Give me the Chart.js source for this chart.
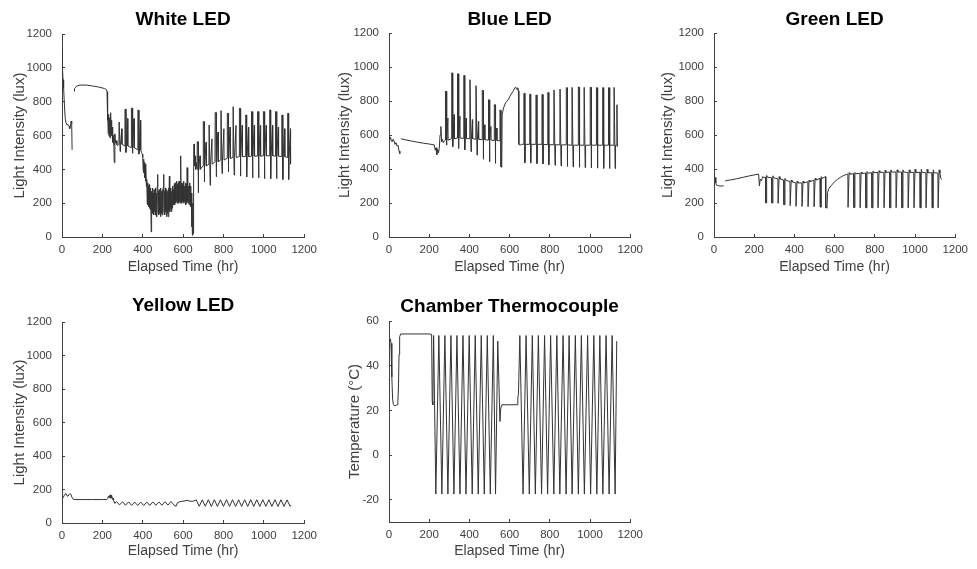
<!DOCTYPE html>
<html>
<head>
<meta charset="utf-8">
<script src="https://cdn.jsdelivr.net/npm/chart.js@4.4.1/dist/chart.umd.min.js"></script>
<style>
  body { margin: 0; background: #fff; width: 977px; height: 569px; overflow: hidden; position: relative; }
  canvas { position: absolute; }
</style>
</head>
<body>
<canvas id="white"></canvas>
<canvas id="blue"></canvas>
<canvas id="green"></canvas>
<canvas id="yellow"></canvas>
<canvas id="thermo"></canvas>
<script>
// tick labels
const hourTicks = [0, 200, 400, 600, 800, 1000, 1200];
const luxTicks = [0, 200, 400, 600, 800, 1000, 1200];
const tempTicks = [-20, 0, 20, 40, 60];

// White LED (lux)
const whiteStartHours = [0, 2, 5, 8, 12, 16, 20, 25, 30, 35, 38, 42, 45, 48, 50];
const whiteStartLux = [1090, 1010, 930, 880, 780, 700, 675, 662, 665, 655, 640, 652, 685, 670, 515];
const whitePlateauHours = [60, 62, 66, 72, 90, 120, 150, 180, 210, 220, 223, 225, 227, 229, 231, 233, 235, 237, 239, 241, 243, 245, 247, 249, 251, 254, 257, 259, 262, 265, 268, 272, 276];
const whitePlateauLux = [862, 878, 882, 892, 898, 898, 893, 887, 878, 872, 860, 690, 745, 610, 725, 595, 705, 640, 585, 735, 615, 690, 600, 650, 560, 600, 545, 440, 610, 555, 570, 545, 540];
const whiteCycle1Hours = [283, 312, 344, 376];
const whiteCycle1Peak = [680, 755, 762, 750];
const whiteCycle1Low = [505, 500, 495, 490];
const whiteCycle1Base = [548, 538, 528, 515];
const whiteCycle1Mid = [640, 700, 700, 690];
const whiteDenseHours = [390, 394, 398,
  400, 402, 404, 406, 408, 410, 412, 414, 416, 418, 420, 422, 424, 426, 428, 430, 432, 434, 436, 438,
  440, 442, 444, 446, 448, 450, 452, 454, 456, 458, 460, 462, 464, 466, 468, 470, 472, 474, 476, 478,
  480, 482, 484, 486, 488, 490, 492, 494, 496, 498, 500, 502, 504, 506, 508, 510, 512, 514, 516, 518,
  520, 522, 524, 526, 528, 530, 532, 534, 536, 538, 540, 542, 544, 546, 548, 550, 552, 554, 556, 558,
  560, 562, 564, 566, 568, 570, 572, 574, 576, 578, 580, 582, 584, 586, 588, 590, 592, 594, 596, 598,
  600, 602, 604, 606, 608, 610, 612, 614, 616, 618, 620, 622, 624, 626, 628, 630, 632, 634, 636, 638,
  640, 642, 644, 646, 648, 650, 652, 654, 656, 659, 662, 665];
const whiteDenseLux = [515, 500, 490,
  470, 400, 460, 380, 440, 350, 430, 330, 400, 300, 340, 200, 320, 190, 300, 180, 310, 170, 290, 160,
  280, 30, 270, 150, 290, 140, 260, 130, 280, 150, 270, 130, 290, 140, 260, 120, 300, 370, 150, 270,
  130, 280, 140, 260, 120, 290, 140, 270, 130, 280, 150, 300, 370, 140, 270, 130, 290, 150, 260, 120,
  280, 140, 270, 120, 290, 160, 360, 150, 280, 170, 290, 150, 270, 170, 300, 190, 280, 200, 310, 190,
  320, 200, 300, 210, 330, 200, 310, 220, 320, 200, 330, 210, 310, 200, 480, 220, 320, 200, 310, 210,
  320, 200, 330, 210, 300, 200, 320, 190, 310, 200, 410, 210, 320, 200, 300, 190, 320, 210, 300, 180,
  260, 60, 240, 10, 200, 20, 380, 550, 420, 480, 400, 440];
const whiteCycle2Hours = [670, 700, 729, 759, 788, 819, 848, 879, 910, 939, 969, 998, 1029, 1058, 1089, 1118];
const whiteCycle2Peak = [563, 682, 662, 735, 747, 731, 770, 760, 721, 741, 741, 741, 751, 741, 721, 731];
const whiteCycle2Low = [262, 326, 306, 356, 375, 385, 366, 360, 355, 350, 350, 345, 345, 345, 340, 340];
const whiteCycle2Base = [400, 420, 430, 445, 455, 465, 470, 475, 475, 478, 478, 480, 480, 478, 475, 470];
const whiteCycle2Mid = [480, 560, 580, 620, 640, 650, 660, 660, 650, 660, 660, 660, 660, 650, 640, 640];
const whiteEndHours = [1130, 1134];
const whiteEndLux = [430, 440];

// Blue LED (lux)
const blueStartHours = [0, 4, 8, 12, 16, 20, 25, 30, 35, 40, 45, 50, 54];
const blueStartLux = [590, 575, 585, 565, 560, 575, 565, 545, 555, 535, 540, 505, 490];
const blueFlatHours = [60, 80, 110, 140, 170, 200, 225, 230, 234, 238, 242, 246, 250, 254, 258, 262, 266, 270, 275];
const blueFlatLux = [578, 572, 565, 558, 552, 547, 542, 510, 525, 485, 515, 495, 520, 600, 650, 560, 575, 555, 565];
const blueCycle1Hours = [281, 312, 341, 372, 403, 433, 464, 495, 524];
const blueCycle1Peak = [857, 965, 960, 950, 925, 890, 862, 807, 778];
const blueCycle1Low = [540, 531, 520, 512, 502, 482, 457, 443, 433];
const blueCycle1Base = [570, 578, 582, 580, 578, 575, 572, 570, 568];
const blueCycle1Mid = [700, 720, 710, 700, 690, 680, 660, 650, 640];
const blueRiseHours = [551, 552, 556, 557, 561, 563, 570, 580, 593, 605, 617, 625, 630, 634, 638, 641, 644, 646, 652, 660];
const blueRiseLux = [565, 748, 745, 413, 410, 720, 760, 790, 807, 835, 856, 875, 882, 870, 866, 878, 860, 545, 540, 545];
const blueCycle2Hours = [671, 700, 731, 761, 790, 821, 851, 882, 911, 942, 971, 1001, 1032, 1063, 1092, 1120];
const blueCycle2Peak = [845, 840, 835, 838, 850, 865, 870, 878, 880, 882, 880, 880, 878, 878, 878, 880];
const blueCycle2Low = [437, 435, 432, 430, 425, 422, 418, 415, 412, 410, 408, 406, 405, 404, 403, 403];
const blueCycle2Base = [545, 545, 545, 545, 543, 543, 542, 542, 540, 540, 540, 540, 540, 540, 540, 540];
const blueEndHours = [1131, 1134, 1136];
const blueEndLux = [540, 778, 530];

// Green LED (lux)
const greenStartHours = [0, 6, 9, 12, 20, 30, 40, 48];
const greenStartLux = [352, 350, 318, 306, 302, 300, 300, 302];
const greenFlatHours = [55, 60, 80, 110, 140, 170, 200, 222, 226, 230, 236, 242, 248];
const greenFlatLux = [328, 332, 335, 342, 350, 358, 365, 370, 300, 340, 330, 355, 350];
const greenCycle1Hours = [257, 288, 319, 348, 379, 408, 438, 468, 498, 529];
const greenCycle1Low = [200, 200, 198, 190, 185, 180, 180, 178, 178, 176];
const greenCycle1Tooth = [362, 360, 355, 345, 335, 328, 328, 335, 345, 355];
const greenCycle1Top = [352, 348, 342, 335, 325, 318, 318, 325, 335, 345];
const greenRiseHours = [555, 556, 561, 562, 565, 572, 585, 600, 615, 630, 645, 660];
const greenRiseLux = [355, 172, 172, 170, 262, 285, 305, 325, 340, 352, 362, 368];
const greenCycle2Hours = [667, 696, 727, 756, 786, 816, 846, 875, 906, 935, 966, 995, 1026, 1055, 1086, 1115];
const greenCycle2Low = [175, 173, 172, 172, 172, 172, 172, 172, 172, 172, 172, 172, 172, 172, 172, 172];
const greenCycle2Tooth = [378, 380, 382, 385, 388, 390, 392, 395, 395, 395, 395, 398, 398, 398, 395, 395];
const greenCycle2Top = [370, 372, 374, 376, 378, 380, 380, 382, 382, 382, 380, 380, 380, 378, 378, 376];
const greenEndHours = [1128, 1134];
const greenEndLux = [345, 338];

// Yellow LED (lux)
const yellowStartHours = [0, 5, 10, 15, 20, 25, 30, 35, 40, 45, 50, 55, 60, 100, 150, 200, 222, 226, 230, 234, 238, 242, 246, 250, 254, 258, 262];
const yellowStartLux = [148, 150, 162, 172, 175, 162, 160, 170, 176, 168, 152, 142, 140, 140, 140, 140, 140, 145, 160, 150, 168, 148, 165, 140, 150, 125, 118];
const yellowCycle1Hours = [270, 300, 330, 360, 390, 420, 450, 480, 510, 540];
const yellowCycle1Peak = [128, 127, 126, 125, 125, 125, 126, 126, 127, 128];
const yellowCycle1Low = [108, 106, 105, 105, 105, 105, 106, 106, 107, 108];
const yellowMidHours = [560, 565, 572, 585, 600, 620, 635, 650];
const yellowMidLux = [103, 100, 120, 128, 130, 135, 130, 130];
const yellowCycle2Hours = [665, 695, 725, 755, 785, 815, 845, 875, 905, 935, 965, 995, 1025, 1055, 1085, 1115];
const yellowCycle2Peak = [138, 138, 139, 139, 139, 139, 139, 139, 139, 139, 139, 139, 139, 139, 139, 138];
const yellowCycle2Low = [100, 100, 99, 99, 99, 99, 99, 99, 99, 99, 99, 99, 99, 99, 99, 100];
const yellowEndHours = [1135];
const yellowEndLux = [108];

// Chamber thermocouple (°C)
const thermoHours = [0, 3, 7, 10, 14, 18, 22, 30, 40, 44, 47, 50, 53, 58, 100, 150, 200, 212, 215, 218, 222, 233, 248, 263, 278, 293, 308, 323, 338, 353, 368, 383, 399, 414, 429, 444, 459, 474, 489, 504, 519, 530, 541, 552, 556, 562, 600, 638, 641, 644, 651, 667, 682, 698, 713, 728, 743, 759, 774, 789, 804, 820, 835, 850, 866, 881, 896, 911, 927, 942, 957, 972, 988, 1003, 1019, 1034, 1049, 1064, 1080, 1095, 1110, 1125, 1133];
const thermoTemp = [48, 51, 52, 50, 35, 25, 22.5, 22, 22.5, 24, 30, 45, 53, 54.2, 54.2, 54.2, 54.2, 54, 24, 22.5, 53.5, -17.5, 53.5, -17.5, 53.5, -17.5, 53.5, -17.5, 53.5, -17.5, 53.5, -17.5, 53.5, -17.5, 53.5, -17.5, 53.5, -17.5, 53.5, -17.5, 53.5, -17.5, 51, 15, 21, 22.5, 22.5, 22.5, 26, 27, 53.5, -17.5, 53.5, -17.5, 53.5, -17.5, 53.5, -17.5, 53.5, -17.5, 53.5, -17.5, 53.5, -17.5, 53.5, -17.5, 53.5, -17.5, 53.5, -17.5, 53.5, -17.5, 53.5, -17.5, 53.5, -17.5, 53.5, -17.5, 53.5, -17.5, 53.5, -17.5, 51];

function pts(hours, vals) {
  return hours.map((h, i) => ({ x: h, y: vals[i] }));
}
// one pulse per cycle: list of [hour offset, value array] pairs
function pulses(hours, shape) {
  const out = [];
  hours.forEach((h, i) => shape.forEach(([dt, vals]) => out.push({ x: h + dt, y: vals[i] })));
  return out;
}
function gap(h) { return [{ x: h, y: null }]; }

const whitePts = [].concat(
  pts(whiteStartHours, whiteStartLux), gap(55),
  pts(whitePlateauHours, whitePlateauLux),
  pulses(whiteCycle1Hours, [[-1, whiteCycle1Base], [0, whiteCycle1Peak], [4, whiteCycle1Peak], [5, whiteCycle1Low], [7, whiteCycle1Base], [13, whiteCycle1Mid], [14, whiteCycle1Base]]),
  pts(whiteDenseHours, whiteDenseLux),
  pulses(whiteCycle2Hours, [[-1, whiteCycle2Base], [0, whiteCycle2Peak], [4, whiteCycle2Peak], [5, whiteCycle2Low], [7, whiteCycle2Base], [14, whiteCycle2Mid], [15, whiteCycle2Base]]),
  pts(whiteEndHours, whiteEndLux)
);
const bluePts = [].concat(
  pts(blueStartHours, blueStartLux), gap(57),
  pts(blueFlatHours, blueFlatLux),
  pulses(blueCycle1Hours, [[-1, blueCycle1Base], [0, blueCycle1Peak], [4, blueCycle1Peak], [5, blueCycle1Low], [7, blueCycle1Base], [12, blueCycle1Mid], [13, blueCycle1Base]]),
  pts(blueRiseHours, blueRiseLux),
  pulses(blueCycle2Hours, [[-1, blueCycle2Base], [0, blueCycle2Peak], [4, blueCycle2Peak], [5, blueCycle2Low], [7, blueCycle2Base]]),
  pts(blueEndHours, blueEndLux)
);
const greenPts = [].concat(
  pts(greenStartHours, greenStartLux), gap(51),
  pts(greenFlatHours, greenFlatLux),
  pulses(greenCycle1Hours, [[-1, greenCycle1Top], [0, greenCycle1Low], [4, greenCycle1Low], [5, greenCycle1Tooth], [9, greenCycle1Top]]),
  pts(greenRiseHours, greenRiseLux),
  pulses(greenCycle2Hours, [[-1, greenCycle2Top], [0, greenCycle2Low], [4, greenCycle2Low], [5, greenCycle2Tooth], [9, greenCycle2Top]]),
  pts(greenEndHours, greenEndLux)
);
const yellowPts = [].concat(
  pts(yellowStartHours, yellowStartLux),
  pulses(yellowCycle1Hours, [[0, yellowCycle1Peak], [15, yellowCycle1Low]]),
  pts(yellowMidHours, yellowMidLux),
  pulses(yellowCycle2Hours, [[0, yellowCycle2Peak], [15, yellowCycle2Low]]),
  pts(yellowEndHours, yellowEndLux)
);
const thermoPts = pts(thermoHours, thermoTemp);

const FONT = "'Liberation Sans', Arial, Helvetica, sans-serif";
const INK = '#404040';

// title centred over the plot area, like the original figure
const plotTitle = {
  id: 'plotTitle',
  afterDraw(chart, args, opts) {
    const { ctx, chartArea } = chart;
    ctx.save();
    ctx.font = 'bold 19px ' + FONT;
    ctx.fillStyle = '#000';
    ctx.textAlign = 'center';
    ctx.textBaseline = 'middle';
    ctx.fillText(opts.text, (chartArea.left + chartArea.right) / 2, opts.y);
    ctx.restore();
  }
};

function panel(id, box, area, cfg) {
  const cv = document.getElementById(id);
  cv.width = box.w; cv.height = box.h;
  cv.style.left = box.x + 'px'; cv.style.top = box.y + 'px';
  const xLH = 14 * 1.2, yLH = 15 * 1.2;
  const axisCommon = {
    type: 'linear',
    border: { display: true, color: INK, width: 1 },
    grid: { drawOnChartArea: false, drawTicks: true, tickLength: -3, color: INK, lineWidth: 1 },
  };
  new Chart(cv, {
    type: 'line',
    data: { datasets: [{ data: cfg.points, borderColor: '#333333', borderWidth: 1, pointRadius: 0, tension: 0, spanGaps: false, fill: false }] },
    options: {
      responsive: false, animation: false, devicePixelRatio: 1,
      layout: { padding: { left: 0, top: area.t - box.y, bottom: 0, right: box.x + box.w - area.r } },
      plugins: {
        legend: { display: false }, tooltip: { enabled: false }, title: { display: false },
        plotTitle: { text: cfg.title, y: cfg.titleY - box.y }
      },
      scales: {
        x: Object.assign({}, axisCommon, {
          min: 0, max: 1200,
          afterBuildTicks: s => { s.ticks = hourTicks.map(v => ({ value: v })); },
          afterFit: s => { s.height = box.y + box.h - area.b; },
          ticks: { color: INK, font: { family: FONT, size: 11.5 }, padding: 9, maxRotation: 0, autoSkip: false, callback: v => String(v) },
          title: { display: true, text: 'Elapsed Time (hr)', color: INK, font: { family: FONT, size: 14 }, padding: { top: 0, bottom: box.y + box.h - cfg.xLabelY - xLH / 2 } }
        }),
        y: Object.assign({}, axisCommon, {
          min: cfg.yMin, max: cfg.yMax,
          afterBuildTicks: s => { s.ticks = cfg.yTicks.map(v => ({ value: v })); },
          afterFit: s => { s.width = area.l - box.x; },
          ticks: { color: INK, font: { family: FONT, size: 11.5 }, padding: 13, autoSkip: false, callback: v => String(v) },
          title: { display: true, text: cfg.yLabel, color: INK, font: { family: FONT, size: 15 }, padding: { top: cfg.yLabelX - box.x - yLH / 2, bottom: 0 } }
        })
      }
    },
    plugins: [plotTitle]
  });
}

panel('white', { x: 0, y: 0, w: 326, h: 280 }, { l: 62, t: 34, r: 309, b: 237 },
  { title: 'White LED', titleY: 20, xLabelY: 267, yLabelX: 19.5, yLabel: 'Light Intensity (lux)', yMin: 0, yMax: 1200, yTicks: luxTicks, points: whitePts });
panel('blue', { x: 326, y: 0, w: 326, h: 280 }, { l: 389, t: 33, r: 634, b: 237 },
  { title: 'Blue LED', titleY: 20, xLabelY: 267, yLabelX: 345, yLabel: 'Light Intensity (lux)', yMin: 0, yMax: 1200, yTicks: luxTicks, points: bluePts });
panel('green', { x: 652, y: 0, w: 325, h: 280 }, { l: 714, t: 33, r: 962, b: 237 },
  { title: 'Green LED', titleY: 20, xLabelY: 267, yLabelX: 668, yLabel: 'Light Intensity (lux)', yMin: 0, yMax: 1200, yTicks: luxTicks, points: greenPts });
panel('yellow', { x: 0, y: 286, w: 326, h: 283 }, { l: 62, t: 322, r: 309, b: 523 },
  { title: 'Yellow LED', titleY: 305.5, xLabelY: 551, yLabelX: 19.5, yLabel: 'Light Intensity (lux)', yMin: 0, yMax: 1200, yTicks: luxTicks, points: yellowPts });
panel('thermo', { x: 326, y: 286, w: 326, h: 283 }, { l: 389, t: 321, r: 635, b: 522 },
  { title: 'Chamber Thermocouple', titleY: 306.5, xLabelY: 551, yLabelX: 355, yLabel: 'Temperature (°C)', yMin: -30, yMax: 60, yTicks: tempTicks, points: thermoPts });
</script>
</body>
</html>
